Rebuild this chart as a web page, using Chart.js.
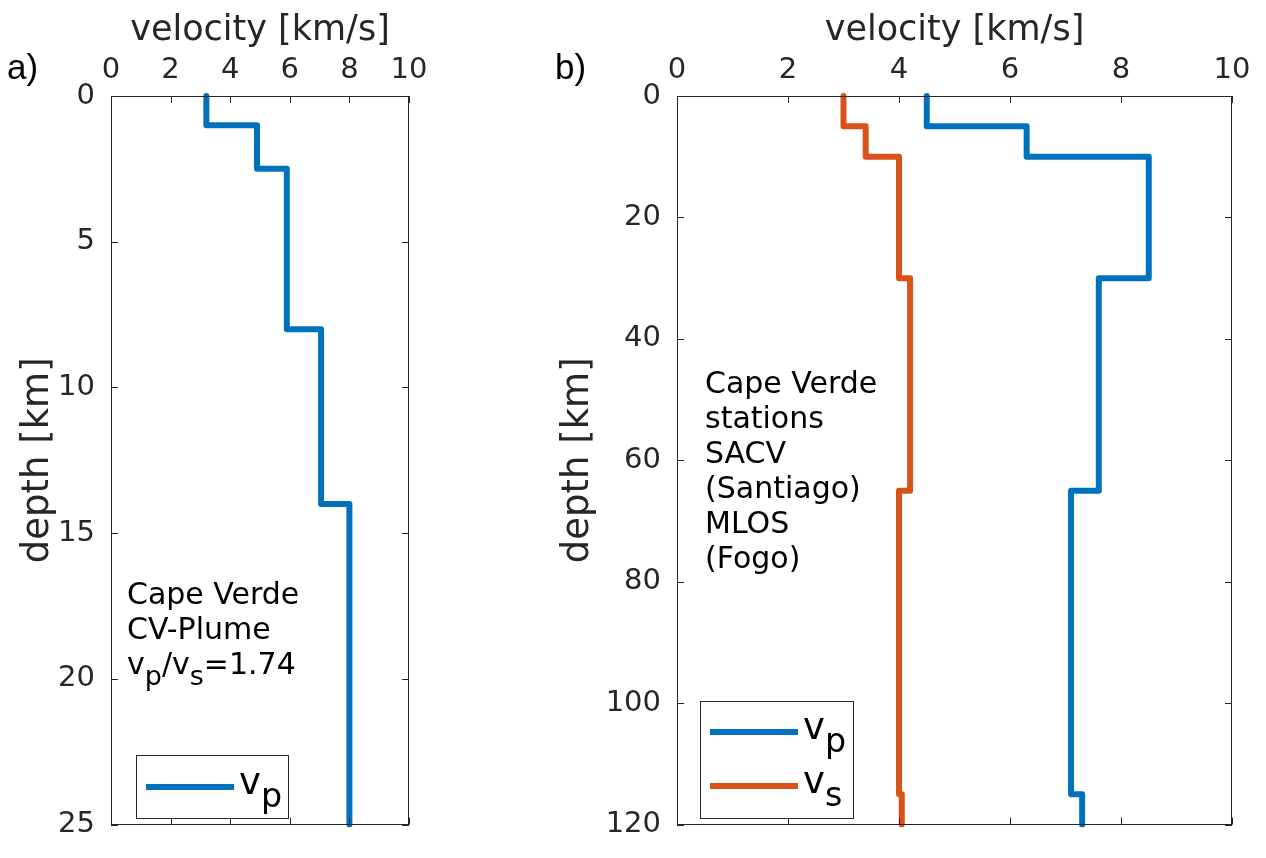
<!DOCTYPE html>
<html><head><meta charset="utf-8">
<script src="https://cdn.jsdelivr.net/npm/chart.js@4"></script>
<style>
html,body{margin:0;padding:0;background:#fff;width:1266px;height:858px;overflow:hidden;position:relative}
canvas{position:absolute;top:0}
#ca{left:0}
#cb{left:540px}
</style></head><body>
<canvas id="ca" width="440" height="858"></canvas>
<canvas id="cb" width="726" height="858"></canvas>
<script>
// ---- data ----
const depthA = [0, 1, 2.5, 8, 14, 25];          // layer boundaries [km]
const vpA    = [3.2, 4.9, 5.9, 7.05, 8.0];       // vp per layer [km/s]
const depthB = [0, 5, 10, 30, 65, 115, 120];
const vpB    = [4.5, 6.3, 8.5, 7.6, 7.1, 7.3];
const vsB    = [3.0, 3.4, 4.0, 4.2, 4.0, 4.05];
const velTicks = [0, 2, 4, 6, 8, 10];
const depthTicksA = [0, 5, 10, 15, 20, 25];
const depthTicksB = [0, 20, 40, 60, 80, 100, 120];
const textA = [[{t:'Cape Verde'}], [{t:'CV-Plume'}], [{t:'v'},{t:'p',sub:true},{t:'/v'},{t:'s',sub:true},{t:'=1.74'}]];
const textB = ['Cape Verde','stations','SACV','(Santiago)','MLOS','(Fogo)'].map(s=>[{t:s}]);

const BLUE = '#0072BD', ORANGE = '#D95319', INK = '#262626';
const FONT = '"DejaVu Sans", sans-serif';

function stepPoints(bounds, vals){
  const pts = [];
  vals.forEach((v,i)=>{ pts.push({x:v, y:bounds[i]}); pts.push({x:v, y:bounds[i+1]}); });
  return pts;
}

function drawRich(ctx, x, y, parts, size){
  let cx = x;
  ctx.textBaseline = 'alphabetic'; ctx.textAlign = 'left';
  for (const p of parts){
    const s = p.sub ? size*0.9 : size;
    ctx.font = s + 'px ' + FONT;
    ctx.fillText(p.t, cx, y + (p.sub ? size*0.36 : 0));
    cx += ctx.measureText(p.t).width;
  }
}

const framePlugin = {
  id: 'frame',
  afterDraw(chart){
    const {ctx, chartArea:a, scales:{x, y}} = chart;
    const o = chart.options.plugins.frame;
    ctx.save();
    ctx.strokeStyle = INK; ctx.lineWidth = 1;
    ctx.strokeRect(Math.round(a.left)+0.5, Math.round(a.top)+0.5, Math.round(a.right-a.left)-1, Math.round(a.bottom-a.top)-1);
    const L = 7;
    ctx.beginPath();
    x.ticks.forEach(t=>{
      const px = Math.round(x.getPixelForValue(t.value))+0.5;
      ctx.moveTo(px, a.top); ctx.lineTo(px, a.top+L);
      ctx.moveTo(px, a.bottom); ctx.lineTo(px, a.bottom-L);
    });
    y.ticks.forEach(t=>{
      const py = Math.round(y.getPixelForValue(t.value))+0.5;
      ctx.moveTo(a.left, py); ctx.lineTo(a.left+L, py);
      ctx.moveTo(a.right, py); ctx.lineTo(a.right-L, py);
    });
    ctx.stroke();
    // panel label
    ctx.fillStyle = '#000';
    ctx.font = '35px "Liberation Sans", Arial, sans-serif';
    ctx.textBaseline = 'alphabetic'; ctx.textAlign = 'left';
    ctx.fillText(o.panel, o.panelX, 79);
    // annotation
    ctx.fillStyle = '#000';
    o.text.forEach((line,i)=> drawRich(ctx, a.left + o.textDX, o.textY + i*o.lineH, line, 30));
    // legend
    const lg = o.legend;
    ctx.strokeStyle = INK; ctx.lineWidth = 1;
    ctx.fillStyle = '#fff';
    ctx.fillRect(a.left+lg.dx, lg.top, lg.w, lg.h);
    ctx.strokeRect(a.left+lg.dx+0.5, lg.top+0.5, lg.w, lg.h);
    chart.data.datasets.forEach((ds,i)=>{
      const ly = lg.rows[i];
      ctx.strokeStyle = ds.borderColor; ctx.lineWidth = 6; ctx.lineCap='butt';
      ctx.beginPath(); ctx.moveTo(a.left+lg.dx+10, ly); ctx.lineTo(a.left+lg.dx+98, ly); ctx.stroke();
      ctx.fillStyle = '#000';
      drawRich(ctx, a.left+lg.dx+103, ly+7, [{t:'v'},{t:ds.sym, sub:true}], 37);
    });
    ctx.restore();
  }
};

function makeChart(id, datasets, dmax, dticks, yWidth, rightPad, frameOpts){
  return new Chart(document.getElementById(id), {
    type: 'scatter',
    data: { datasets },
    options: {
      responsive: false, animation: false,
      layout: { padding: { left: 0, right: rightPad, top: 0, bottom: 17 } },
      elements: { point: { radius: 0, hoverRadius: 0 } },
      plugins: { legend: { display: false }, tooltip: { enabled: false }, frame: frameOpts },
      scales: {
        x: {
          type: 'linear', position: 'top', min: 0, max: 10,
          afterBuildTicks(s){ s.ticks = velTicks.map(v=>({value:v})); },
          ticks: { font: { family: FONT, size: 29 }, color: INK, padding: 8, maxRotation: 0 },
          grid: { display: true, drawOnChartArea: false, drawTicks: false },
          border: { display: false },
          title: { display: true, text: 'velocity [km/s]', color: INK, font: { family: FONT, size: 35 }, padding: { top: 10, bottom: 0 } },
          afterFit(s){ s.height = 96; }
        },
        y: {
          type: 'linear', reverse: true, min: 0, max: dmax,
          afterBuildTicks(s){ s.ticks = dticks.map(v=>({value:v})); },
          ticks: { font: { family: FONT, size: 29 }, color: INK, padding: 16 },
          grid: { display: true, drawOnChartArea: false, drawTicks: false },
          border: { display: false },
          title: { display: true, text: 'depth [km]', color: INK, font: { family: FONT, size: 37 }, padding: { top: 16, bottom: 0 } },
          afterFit(s){ s.width = yWidth; }
        }
      }
    },
    plugins: [framePlugin]
  });
}

const lineDs = (data, color, sym) => ({ data, showLine: true, borderColor: color, backgroundColor: color, borderWidth: 6, borderJoinStyle: 'round', borderCapStyle: 'butt', sym, clip: 3 });

makeChart('ca', [lineDs(stepPoints(depthA, vpA), BLUE, 'p')], 25, depthTicksA, 111, 31, {
  panel: 'a)', panelX: 7,
  text: textA, textDX: 16, textY: 604, lineH: 35,
  legend: { dx: 25, top: 755, w: 152, h: 63, rows: [787] }
});

makeChart('cb', [lineDs(stepPoints(depthB, vpB), BLUE, 'p'), lineDs(stepPoints(depthB, vsB), ORANGE, 's')], 120, depthTicksB, 137, 34, {
  panel: 'b)', panelX: 15,
  text: textB, textDX: 28, textY: 393, lineH: 35,
  legend: { dx: 23, top: 701, w: 153, h: 117, rows: [732, 786] }
});
</script>
</body></html>
